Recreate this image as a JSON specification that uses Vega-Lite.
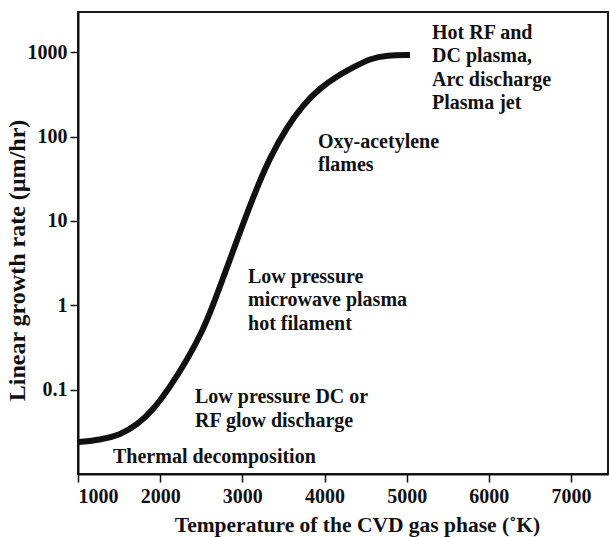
{
  "$schema": "https://vega.github.io/schema/vega-lite/v6.json",
  "width": 530,
  "height": 462,
  "autosize": {"type": "none"},
  "padding": {"left": 78, "top": 12, "right": 2, "bottom": 63},
  "background": "white",
  "config": {
    "font": "Liberation Serif",
    "view": {"stroke": "#1a1a1a", "strokeWidth": 2},
    "axis": {
      "grid": false,
      "domainColor": "#111111",
      "domainWidth": 2,
      "tickColor": "#111111",
      "tickWidth": 1.5,
      "tickSize": 8,
      "labelFont": "Liberation Serif",
      "labelFontWeight": "bold",
      "labelFontSize": 20,
      "labelColor": "#111111",
      "titleFont": "Liberation Serif",
      "titleFontWeight": "bold",
      "titleFontSize": 21.5,
      "titleColor": "#111111"
    }
  },
  "datasets": {
    "curve": [
      {"temperature": 1000, "rate": 0.0239},
      {"temperature": 1268, "rate": 0.0253},
      {"temperature": 1511, "rate": 0.029},
      {"temperature": 1718, "rate": 0.0381},
      {"temperature": 1913, "rate": 0.0574},
      {"temperature": 2120, "rate": 0.1074},
      {"temperature": 2327, "rate": 0.2244},
      {"temperature": 2521, "rate": 0.509},
      {"temperature": 2643, "rate": 1.0},
      {"temperature": 2765, "rate": 2.1},
      {"temperature": 2935, "rate": 5.9},
      {"temperature": 3130, "rate": 19.2},
      {"temperature": 3337, "rate": 57.3},
      {"temperature": 3543, "rate": 130},
      {"temperature": 3738, "rate": 237},
      {"temperature": 3945, "rate": 377},
      {"temperature": 4152, "rate": 520},
      {"temperature": 4347, "rate": 660},
      {"temperature": 4553, "rate": 840},
      {"temperature": 4760, "rate": 920},
      {"temperature": 5040, "rate": 927}
    ],
    "regimes": [
      {"temperature": 5308, "rate": 1455, "label": "Hot RF and\nDC plasma,\nArc discharge\nPlasma jet"},
      {"temperature": 3921, "rate": 73.3, "label": "Oxy-acetylene\nflames"},
      {"temperature": 3069, "rate": 1.86, "label": "Low pressure\nmicrowave plasma\nhot filament"},
      {"temperature": 2424, "rate": 0.0686, "label": "Low pressure DC or\nRF glow discharge"},
      {"temperature": 1426, "rate": 0.01368, "label": "Thermal decomposition"}
    ]
  },
  "encoding": {
    "x": {
      "field": "temperature",
      "type": "quantitative",
      "scale": {"domain": [1000, 7450], "nice": false, "zero": false},
      "axis": {
        "values": [1000, 2000, 3000, 4000, 5000, 6000, 7000],
        "format": "d",
        "labelPadding": 4,
        "title": "Temperature of the CVD gas phase (˚K)",
        "titleX": 279,
        "titlePadding": 8
      }
    },
    "y": {
      "field": "rate",
      "type": "quantitative",
      "scale": {"type": "log", "domain": [0.01, 3000], "nice": false},
      "axis": {
        "values": [0.1, 1, 10, 100, 1000],
        "format": "~g",
        "labelPadding": 3,
        "title": "Linear growth rate (µm/hr)",
        "titleFontSize": 24,
        "titleX": -61,
        "titleY": 248,
        "titleBaseline": "middle",
        "titleAlign": "center"
      }
    }
  },
  "layer": [
    {
      "data": {"name": "curve"},
      "mark": {
        "type": "line",
        "interpolate": "basis",
        "color": "#111111",
        "strokeWidth": 6,
        "strokeCap": "butt",
        "clip": true
      }
    },
    {
      "data": {"name": "regimes"},
      "mark": {
        "type": "text",
        "align": "left",
        "baseline": "alphabetic",
        "font": "Liberation Serif",
        "fontWeight": "bold",
        "fontSize": 20,
        "lineHeight": 23.5,
        "lineBreak": "\n",
        "color": "#111111"
      },
      "encoding": {
        "text": {"field": "label", "type": "nominal"}
      }
    }
  ]
}
